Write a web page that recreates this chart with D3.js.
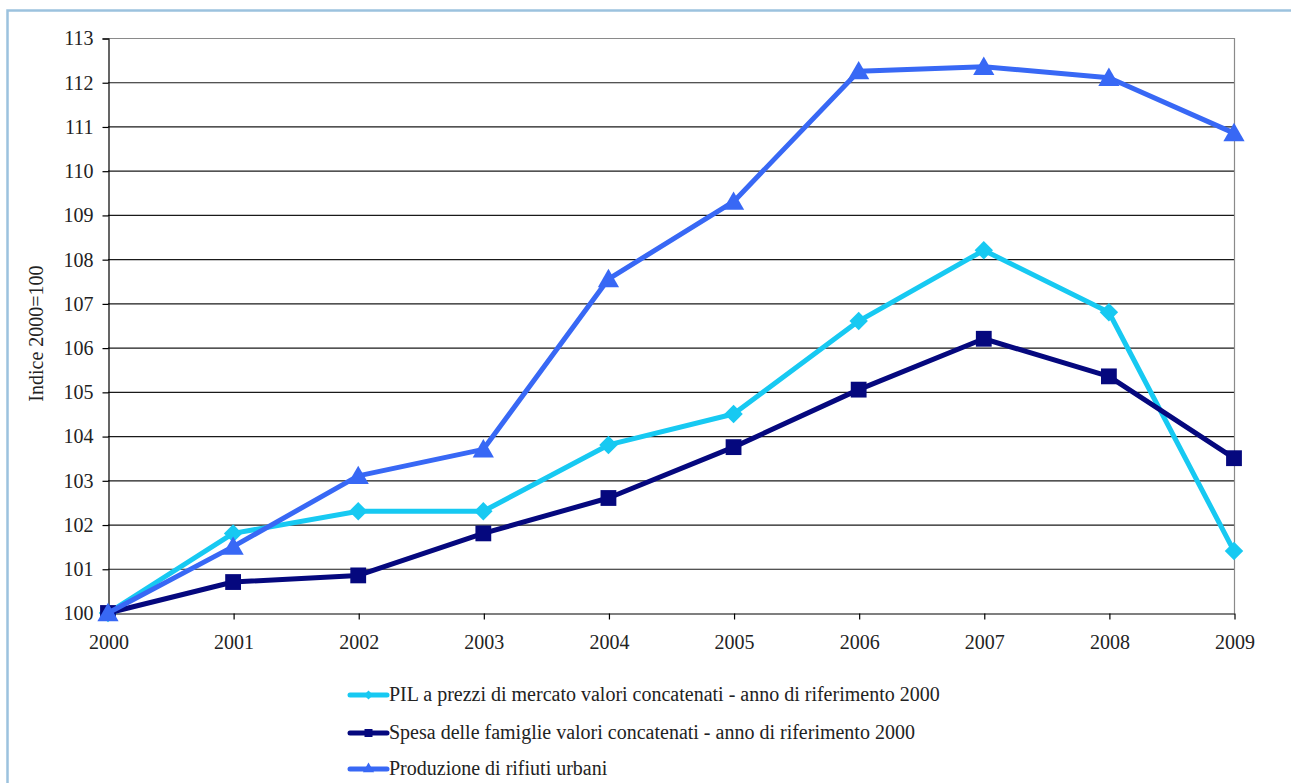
<!DOCTYPE html>
<html>
<head>
<meta charset="utf-8">
<script src="https://cdn.jsdelivr.net/npm/d3@7"></script>
<style>
  html, body { margin: 0; padding: 0; background: #fff; }
  svg { display: block; }
</style>
</head>
<body>
<script>
// Index numbers, base 2000 = 100
const years = ["2000", "2001", "2002", "2003", "2004", "2005", "2006", "2007", "2008", "2009"];
const pil = [100, 101.8, 102.3, 102.3, 103.8, 104.5, 106.6, 108.2, 106.8, 101.4];
const spesa = [100, 100.7, 100.85, 101.8, 102.6, 103.75, 105.05, 106.2, 105.35, 103.5];
const rifiuti = [100, 101.5, 103.1, 103.7, 107.55, 109.3, 112.25, 112.35, 112.1, 110.85];
const yTicks = d3.range(100, 114, 1);

const seriesNames = [
  "PIL a prezzi di mercato valori concatenati - anno di riferimento 2000",
  "Spesa delle famiglie valori concatenati - anno di riferimento 2000",
  "Produzione di rifiuti urbani"
];

const W = 1291, H = 783;
const plot = { left: 108, right: 1234, top: 38, bottom: 613 };
const FONT = '"Liberation Serif", "Times New Roman", Times, serif';
const FS = 20;

const series = [
  { name: seriesNames[0], values: pil, color: "#17c9f2", marker: "diamond" },
  { name: seriesNames[1], values: spesa, color: "#05087e", marker: "square" },
  { name: seriesNames[2], values: rifiuti, color: "#3868f5", marker: "triangle" }
];

const svg = d3.select("body").append("svg").attr("width", W).attr("height", H);

// outer frame
svg.append("rect")
  .attr("x", 7.5).attr("y", 10.5)
  .attr("width", W + 20).attr("height", H + 20)
  .attr("fill", "none").attr("stroke", "#9cc2de").attr("stroke-width", 2.5);

const x = d3.scalePoint().domain(years).range([plot.left, plot.right]);
const y = d3.scaleLinear().domain([100, 113]).range([plot.bottom, plot.top]);

// horizontal gridlines
svg.append("g").selectAll("line")
  .data(yTicks.filter(v => v > 100 && v < 113))
  .join("line")
  .attr("x1", plot.left).attr("x2", plot.right)
  .attr("y1", d => y(d) + 0.5).attr("y2", d => y(d) + 0.5)
  .attr("stroke", "#1a1a1a").attr("stroke-width", 1.2);

// plot frame top / right
svg.append("line")
  .attr("x1", plot.left).attr("x2", plot.right + 0.5)
  .attr("y1", y(113) + 0.5).attr("y2", y(113) + 0.5)
  .attr("stroke", "#8a8a8a").attr("stroke-width", 1.2);
svg.append("line")
  .attr("x1", plot.right + 0.5).attr("x2", plot.right + 0.5)
  .attr("y1", y(113)).attr("y2", y(100))
  .attr("stroke", "#8a8a8a").attr("stroke-width", 1.2);

// y axis
const yAxis = svg.append("g")
  .attr("transform", `translate(${plot.left + 0.5},0.5)`)
  .call(d3.axisLeft(y).tickValues(yTicks).tickFormat(d3.format("d")).tickSize(6).tickPadding(9));
yAxis.attr("font-family", FONT).attr("font-size", FS);
yAxis.select(".domain").attr("stroke", "#000").attr("stroke-width", 1.2);
yAxis.selectAll(".tick line").attr("stroke", "#000").attr("stroke-width", 1.2);
yAxis.selectAll("text").attr("fill", "#222");

// x axis
const xAxis = svg.append("g")
  .attr("transform", `translate(0.5,${plot.bottom + 0.5})`)
  .call(d3.axisBottom(x).tickSize(6).tickSizeOuter(0).tickPadding(15));
xAxis.attr("font-family", FONT).attr("font-size", FS);
xAxis.select(".domain").attr("stroke", "#000").attr("stroke-width", 1.2);
xAxis.selectAll(".tick line").attr("stroke", "#000").attr("stroke-width", 1.2);
xAxis.selectAll("text").attr("fill", "#222");

// y axis title
svg.append("text")
  .attr("transform", `translate(43,${(plot.top + plot.bottom) / 2 + 8}) rotate(-90)`)
  .attr("text-anchor", "middle")
  .attr("font-family", FONT)
  .attr("font-size", FS)
  .attr("fill", "#222")
  .text("Indice 2000=100");

// marker shapes
const symbolFor = {
  diamond: d3.symbol().type(d3.symbolSquare).size(170),
  square: d3.symbol().type(d3.symbolSquare).size(250),
  triangle: d3.symbol().type(d3.symbolTriangle).size(195)
};
const legendSymbolFor = {
  diamond: d3.symbol().type(d3.symbolSquare).size(40),
  square: d3.symbol().type(d3.symbolSquare).size(64),
  triangle: d3.symbol().type(d3.symbolTriangle).size(55)
};
const rot = m => (m === "diamond" ? " rotate(45)" : "");

const line = d3.line().x((d, i) => x(years[i])).y(d => y(d));

series.forEach(s => {
  const g = svg.append("g");
  g.append("path")
    .attr("d", line(s.values))
    .attr("fill", "none")
    .attr("stroke", s.color)
    .attr("stroke-width", 5)
    .attr("stroke-linejoin", "round");
  g.selectAll("path.mk")
    .data(s.values)
    .join("path")
    .attr("class", "mk")
    .attr("d", symbolFor[s.marker])
    .attr("transform", (d, i) => `translate(${x(years[i])},${y(d) + (s.marker === "triangle" ? 2 : 0)})${rot(s.marker)}`)
    .attr("fill", s.color);
});

// legend
const legend = svg.append("g");
const legendRows = [695, 733, 769];
series.forEach((s, i) => {
  const ly = legendRows[i];
  legend.append("line")
    .attr("x1", 350).attr("x2", 387)
    .attr("y1", ly).attr("y2", ly)
    .attr("stroke", s.color).attr("stroke-width", 5).attr("stroke-linecap", "round");
  legend.append("path")
    .attr("d", legendSymbolFor[s.marker])
    .attr("transform", `translate(368.5,${ly})${rot(s.marker)}`)
    .attr("fill", s.color);
  legend.append("text")
    .attr("x", 389).attr("y", ly + 6)
    .attr("font-family", FONT)
    .attr("font-size", FS)
    .attr("fill", "#222")
    .text(s.name);
});
</script>
</body>
</html>
